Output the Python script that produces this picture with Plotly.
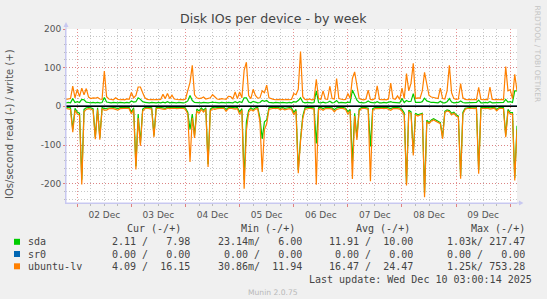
import pandas as pd
import plotly.graph_objects as go

# ---------------- data (hourly samples, Dec 1 19:00 -> Dec 10 03:00) ----------------
start_time = "2025-12-01 19:00"
n_points = 201

# ubuntu-lv write (+)
lv_write = [
    18, 19, 20, 52, 22, 44, 25, 47, 30, 46,
    24, 20, 22, 21, 23, 19, 18, 91, 25, 19,
    18, 17, 22, 18, 17, 18, 17, 19, 18, 36,
    22, 28, 50, 50, 35, 22, 18, 17, 18, 17,
    18, 17, 18, 31, 20, 33, 20, 29, 19, 18,
    17, 18, 17, 19, 40, 62, 106, 30, 22, 20,
    21, 24, 19, 20, 22, 30, 25, 19, 18, 20,
    19, 18, 26, 25, 19, 37, 20, 37, 22, 94,
    114, 28, 20, 44, 28, 21, 22, 40, 35, 55,
    22, 19, 18, 17, 18, 17, 18, 17, 18, 17,
    18, 33, 30, 44, 142, 25, 18, 17, 19, 17,
    18, 70, 20, 18, 40, 19, 18, 52, 20, 19,
    72, 20, 18, 17, 18, 33, 20, 72, 89, 55,
    20, 18, 17, 19, 42, 18, 17, 20, 53, 18,
    17, 18, 17, 19, 60, 20, 18, 27, 18, 47,
    20, 85, 40, 60, 111, 20, 22, 21, 40, 88,
    60, 28, 24, 22, 21, 20, 47, 20, 19, 40,
    106, 35, 20, 18, 19, 59, 22, 18, 17, 18,
    17, 18, 17, 49, 18, 17, 18, 17, 50, 18,
    17, 18, 17, 18, 17, 103, 40, 43, 20, 83,
    40,
]

# sda write (+)
sda_write = [
    9, 10, 9, 20, 10, 12, 10, 18, 17, 11,
    10, 9, 10, 9, 10, 9, 10, 23, 11, 9,
    9, 10, 9, 9, 10, 9, 9, 10, 9, 14,
    11, 12, 22, 18, 12, 10, 9, 9, 10, 9,
    9, 10, 9, 11, 9, 12, 9, 10, 9, 9,
    10, 9, 9, 10, 14, 28, 15, 10, 9, 10,
    9, 10, 9, 9, 10, 11, 10, 9, 9, 10,
    9, 9, 10, 10, 9, 12, 9, 12, 10, 22,
    22, 11, 9, 13, 10, 9, 10, 15, 13, 15,
    10, 9, 9, 10, 9, 9, 10, 9, 9, 10,
    9, 12, 11, 15, 22, 11, 9, 10, 9, 9,
    10, 40, 10, 9, 11, 9, 10, 13, 9, 10,
    15, 9, 10, 9, 9, 11, 10, 42, 30, 16,
    10, 9, 9, 10, 14, 10, 9, 9, 12, 9,
    9, 10, 9, 10, 12, 10, 9, 10, 9, 20,
    10, 15, 12, 13, 33, 10, 10, 10, 12, 21,
    14, 11, 10, 10, 10, 9, 13, 9, 9, 12,
    20, 11, 9, 9, 10, 14, 10, 9, 9, 10,
    9, 9, 10, 16, 9, 9, 10, 9, 12, 9,
    9, 10, 9, 9, 10, 18, 11, 12, 10, 40,
    40,
]

# ubuntu-lv read (-)
lv_read = [
    -5, -6, -8, -67, -10, -20, -23, -202, -14, -8,
    -6, -7, -10, -85, -8, -86, -7, -10, -10, -6,
    -5, -6, -8, -10, -6, -5, -6, -5, -6, -20,
    -8, -163, -30, -102, -12, -6, -5, -6, -7, -80,
    -6, -5, -7, -7, -8, -5, -6, -5, -5, -6,
    -5, -6, -5, -8, -20, -144, -30, -82, -12, -18,
    -8, -15, -7, -157, -12, -6, -8, -6, -5, -6,
    -5, -13, -6, -5, -6, -7, -6, -21, -10, -213,
    -63, -15, -8, -12, -7, -6, -40, -170, -60, -45,
    -8, -6, -5, -6, -5, -9, -6, -9, -7, -6,
    -8, -22, -12, -173, -91, -32, -8, -6, -5, -6,
    -7, -203, -8, -6, -10, -6, -5, -6, -7, -14,
    -8, -6, -5, -6, -8, -20, -12, -188, -25, -87,
    -12, -6, -5, -6, -8, -194, -10, -6, -5, -6,
    -5, -6, -5, -7, -10, -6, -5, -6, -7, -13,
    -22, -205, -15, -18, -127, -22, -25, -22, -20, -235,
    -40, -45, -38, -35, -38, -42, -45, -84, -16, -12,
    -14, -22, -18, -25, -28, -187, -20, -8, -5, -6,
    -5, -6, -5, -174, -6, -5, -6, -5, -7, -6,
    -5, -12, -6, -5, -6, -80, -12, -20, -20, -192,
    -60,
]

# sda read (-)
sda_read = [
    -2, -3, -4, -60, -5, -15, -18, -190, -8, -4,
    -3, -4, -6, -80, -4, -82, -3, -6, -5, -3,
    -2, -3, -4, -6, -3, -2, -3, -2, -3, -15,
    -4, -155, -20, -95, -7, -3, -2, -3, -4, -75,
    -3, -2, -4, -4, -5, -2, -3, -2, -2, -3,
    -2, -3, -2, -5, -15, -60, -20, -75, -7, -12,
    -4, -10, -4, -150, -7, -3, -4, -3, -2, -3,
    -2, -8, -3, -2, -3, -4, -3, -15, -6, -190,
    -40, -10, -4, -8, -4, -3, -30, -84, -40, -35,
    -4, -3, -2, -3, -2, -5, -3, -5, -4, -3,
    -4, -16, -8, -165, -85, -25, -4, -3, -2, -3,
    -4, -96, -4, -3, -6, -3, -2, -3, -4, -9,
    -4, -3, -2, -3, -5, -14, -8, -146, -18, -80,
    -7, -3, -2, -3, -5, -104, -6, -3, -2, -3,
    -2, -3, -2, -4, -6, -3, -2, -3, -4, -8,
    -17, -200, -10, -14, -120, -18, -22, -20, -18, -225,
    -36, -42, -35, -32, -35, -38, -42, -80, -13, -9,
    -11, -18, -15, -22, -25, -180, -16, -5, -3, -3,
    -2, -3, -2, -165, -3, -2, -3, -2, -4, -3,
    -2, -8, -3, -2, -3, -75, -8, -16, -16, -185,
    -50,
]

# sr0 (idle: all zero)
sr0_ios = [0.0] * n_points

# legend table
devices = ["sda", "sr0", "ubuntu-lv"]
dev_colors = ["#00CC00", "#0066B3", "#FF8000"]
col_headers = ["Cur (-/+)", "Min (-/+)", "Avg (-/+)", "Max (-/+)"]
cur_vals = ["2.11 /   7.98", "0.00 /   0.00", "4.09 /  16.15"]
min_vals = ["23.14m/   6.00", "0.00 /   0.00", "30.86m/  11.94"]
avg_vals = ["11.91 /  10.00", "0.00 /   0.00", "16.47 /  24.47"]
max_vals = ["1.03k/ 217.47", "0.00 /   0.00", "1.25k/ 753.28"]

y_tick_vals = [-200, -100, 0, 100, 200]
y_tick_text = ["-200", "-100", "0", "100", "200"]

times = pd.date_range(start_time, periods=n_points, freq="h")

# ---------------- geometry helpers (pixel -> paper) ----------------
W, H = 547, 299
ML, MR, MT, MB = 66, 30, 29, 96
PW, PH = W - ML - MR, H - MT - MB


def px(x):
    return (x - ML) / PW


def py(y):
    return (H - MB - y) / PH


fig = go.Figure()


def add_line(y, color, name):
    fig.add_trace(go.Scatter(x=times, y=y, mode="lines", name=name,
                             line=dict(color=color, width=1.2),
                             hoverinfo="skip", showlegend=False))


add_line(sda_read, "#00CC00", "sda read")
add_line(sda_write, "#00CC00", "sda write")
add_line(sr0_ios, "#0066B3", "sr0 read")
add_line(sr0_ios, "#0066B3", "sr0 write")
add_line(lv_read, "#FF8000", "ubuntu-lv read")
add_line(lv_write, "#FF8000", "ubuntu-lv write")

major_grid = "rgba(225,110,110,0.75)"
minor_grid = "rgba(185,185,185,0.8)"
axis_col = "#C8C8F0"
dot = "1px,2px"

fig.update_layout(
    width=W, height=H,
    margin=dict(l=ML, r=MR, t=MT, b=MB, pad=0),
    paper_bgcolor="#F0F0F0", plot_bgcolor="#FFFFFF",
    showlegend=False,
    font=dict(family="DejaVu Sans", color="#555555"),
    xaxis=dict(
        type="date", range=[times[0], times[-1]],
        tick0="2025-12-01", dtick=86400000, tickformat="%d %b",
        ticklabelmode="period",
        showgrid=True, gridcolor=major_grid, griddash=dot, gridwidth=1,
        ticks="outside", ticklen=3, tickcolor="#E08080",
        tickfont=dict(family="DejaVu Sans", size=9, color="#555555"),
        showline=True, linecolor=axis_col, linewidth=1, zeroline=False,
        minor=dict(dtick=21600000, tick0="2025-12-01", showgrid=True,
                   gridcolor=minor_grid, griddash=dot, ticks="outside",
                   ticklen=2, tickcolor="#BBBBBB"),
        fixedrange=True,
    ),
    yaxis=dict(
        range=[-250, 200], tickmode="array",
        tickvals=y_tick_vals, ticktext=y_tick_text,
        showgrid=True, gridcolor=major_grid, griddash=dot, gridwidth=1,
        ticks="outside", ticklen=2, tickcolor="#E08080",
        tickfont=dict(family="DejaVu Sans", size=9, color="#555555"),
        showline=True, linecolor=axis_col, linewidth=1, zeroline=False,
        minor=dict(tickmode="linear", tick0=0, dtick=20, showgrid=True,
                   gridcolor=minor_grid, griddash=dot, ticks="outside",
                   ticklen=1, tickcolor="#BBBBBB"),
        fixedrange=True,
    ),
)

shapes = []
# zero rule
shapes.append(dict(type="line", xref="paper", yref="y", x0=0, x1=1, y0=0, y1=0,
                   line=dict(color="#000000", width=1.5)))
# axis extensions + arrows
shapes.append(dict(type="line", xref="paper", yref="paper", x0=px(66), x1=px(520),
                   y0=py(203), y1=py(203), line=dict(color=axis_col, width=1)))
shapes.append(dict(type="line", xref="paper", yref="paper", x0=px(66), x1=px(66),
                   y0=py(203), y1=py(24), line=dict(color=axis_col, width=1)))
shapes.append(dict(type="path", xref="paper", yref="paper",
                   path=f"M {px(519)},{py(200.5)} L {px(523.5)},{py(203)} L {px(519)},{py(205.5)} Z",
                   fillcolor=axis_col, line=dict(width=0)))
shapes.append(dict(type="path", xref="paper", yref="paper",
                   path=f"M {px(63.5)},{py(27)} L {px(66)},{py(22)} L {px(68.5)},{py(27)} Z",
                   fillcolor=axis_col, line=dict(width=0)))
# legend colour squares
row_y = [241.8, 254.0, 266.3]
for c, yy in zip(dev_colors, row_y):
    shapes.append(dict(type="rect", xref="paper", yref="paper",
                       x0=px(14), x1=px(20), y0=py(yy - 3), y1=py(yy + 3),
                       fillcolor=c, line=dict(width=0)))
fig.update_layout(shapes=shapes)

ann = []


def text(t, x, y, size, color, family="DejaVu Sans", xanchor="center", angle=0):
    ann.append(dict(text=t.replace(" ", "\u00a0"), x=px(x), y=py(y), xref="paper", yref="paper",
                    xanchor=xanchor, yanchor="middle", showarrow=False, textangle=angle,
                    font=dict(family=family, size=size, color=color)))


text("Disk IOs per device - by week", 273.5, 19, 12.6, "#444444")
text("IOs/second read (-) / write (+)", 10, 124, 10, "#555555", angle=-90)
text("RRDTOOL / TOBI OETIKER", 537.5, 54, 7.5, "#C4C4C4", angle=90)
text("Munin 2.0.75", 273, 292, 7.6, "#B8B8B8")

mono = "DejaVu Sans Mono"
leg_col = "#444444"
head_right = [182.5, 297, 411.5, 526.5]
val_right = [191.8, 303.5, 415, 526.5]
for h, xr in zip(col_headers, head_right):
    text(h, xr, 228.6, 10, leg_col, mono, "right")
for i, (dev, yy) in enumerate(zip(devices, row_y)):
    text(dev, 25.5, yy, 10, leg_col, mono, "left")
    for vals, xr in zip([cur_vals, min_vals, avg_vals, max_vals], val_right):
        text(vals[i], xr, yy, 10, leg_col, mono, "right")
text("Last update: Wed Dec 10 03:00:14 2025", 533.5, 279.2, 10, leg_col, mono, "right")

fig.update_layout(annotations=ann)

fig.write_html("out.html")
